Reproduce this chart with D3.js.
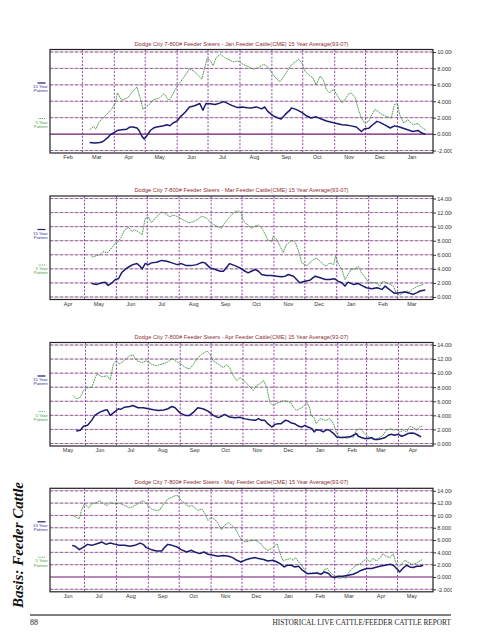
<!DOCTYPE html>
<html><head><meta charset="utf-8">
<script src="https://cdn.jsdelivr.net/npm/d3@7"></script>
<style>body{margin:0;background:#fff}svg{display:block}</style>
</head><body>
<svg id="c" width="495" height="640"></svg>
<script>
// ---------- DATA ----------
const monthNames = ["Jan","Feb","Mar","Apr","May","Jun","Jul","Aug","Sep","Oct","Nov","Dec"];
const contracts = ["Jan","Mar","Apr","May"];
const firstMonth = [1, 3, 4, 5]; // first month shown on each panel (index in monthNames)
const yTicks = [
  [-2,0,2,4,6,8,10],
  [0,2,4,6,8,10,12,14],
  [0,2,4,6,8,10,12,14],
  [-2,0,2,4,6,8,10,12,14]
];
const seriesNames = ["15 Year Pattern","5 Year Pattern"];
// [day since first day of the first month, basis]
const jan15 = [[35,-1.03],[40,-1.1],[45,-1.03],[48,-0.9],[52,-0.5],[55,-0.1],[59,0.2],[62,0.44],[66,0.53],[71,0.6],[74,0.86],[77,0.86],[81,0.74],[83,0.44],[86,-0.3],[88,-0.6],[90,-0.3],[94,0.44],[97,0.74],[100,0.86],[103,0.93],[107,1.02],[110,1.14],[113,1.02],[116,1.35],[120,1.6],[123,2.1],[128,2.7],[132,3.3],[137,3.45],[142,3.72],[145,2.9],[148,3.72],[152,3.7],[157,3.6],[162,3.8],[165,3.95],[168,3.8],[173,3.5],[178,3.25],[183,3.31],[188,3.2],[192,3.19],[197,3.31],[202,3.07],[205,3.3],[208,2.77],[213,2.25],[218,1.96],[221,1.84],[225,2.4],[230,2.98],[231,3.19],[236,2.98],[241,2.65],[246,2.2],[250,1.96],[255,2.1],[260,1.84],[265,1.6],[270,1.43],[275,1.3],[280,1.14],[284,1.1],[289,1.0],[294,0.86],[299,0.32],[302,0.65],[306,0.7],[310,1.14],[314,1.55],[317,1.43],[322,1.1],[327,0.74],[331,1.0],[336,0.86],[341,0.65],[346,0.44],[349,0.32],[354,0.44],[358,0.1],[361,0.0]];
const jan5 = [[35,0.53],[39,0.93],[41,0.6],[44,1.43],[48,1.96],[53,2.6],[56,2.98],[60,3.8],[62,5.03],[66,4.12],[72,4.42],[77,5.23],[81,5.75],[84,4.42],[87,3.0],[90,3.39],[94,3.72],[97,4.2],[100,4.29],[103,4.42],[107,4.9],[108,4.8],[111,4.2],[113,4.2],[118,5.4],[123,6.3],[128,7.2],[132,7.95],[136,7.7],[139,7.3],[144,6.7],[149,9.2],[152,9.0],[155,8.35],[158,9.33],[162,9.73],[166,9.33],[171,9.03],[174,8.8],[179,8.9],[184,8.5],[189,8.22],[194,7.9],[199,8.1],[204,8.5],[207,8.3],[210,7.9],[213,7.28],[217,6.66],[220,6.4],[225,7.28],[230,8.3],[233,8.63],[238,9.12],[241,8.7],[244,7.68],[249,7.07],[252,6.87],[255,6.0],[259,7.07],[262,6.57],[265,5.44],[268,5.03],[272,5.44],[276,4.61],[280,3.8],[283,4.2],[286,4.82],[289,5.03],[293,4.42],[296,2.98],[299,1.96],[302,1.35],[306,1.55],[309,2.37],[312,2.98],[315,2.77],[319,2.37],[323,2.16],[328,1.96],[331,3.6],[334,3.7],[336,2.4],[340,1.35],[344,1.75],[349,1.14],[354,1.3],[357,0.86],[362,0.44]];
const mar15 = [[37,1.93],[42,1.79],[47,2.03],[50,2.11],[53,1.65],[56,1.93],[60,2.49],[63,2.59],[66,3.44],[70,4.0],[74,4.37],[77,4.6],[81,4.75],[84,4.37],[86,4.0],[89,4.75],[92,4.6],[95,4.85],[100,4.93],[105,5.2],[110,5.07],[115,4.85],[120,4.6],[124,4.75],[129,4.46],[134,4.46],[139,4.6],[144,4.93],[147,4.85],[152,4.14],[157,3.9],[162,3.66],[165,3.66],[171,4.75],[176,4.46],[181,4.14],[186,3.66],[189,3.44],[192,3.66],[196,3.9],[199,3.66],[202,3.2],[207,3.06],[212,3.06],[217,2.96],[221,2.87],[225,2.96],[228,3.2],[233,2.96],[236,2.49],[239,2.03],[244,2.25],[249,2.39],[254,2.96],[259,2.73],[264,2.49],[268,2.49],[273,2.59],[276,2.25],[280,2.03],[283,1.55],[286,2.11],[291,1.79],[296,1.93],[299,1.65],[304,1.32],[309,1.18],[314,1.32],[319,1.08],[322,1.55],[325,1.18],[328,0.85],[331,0.52],[336,0.62],[341,0.7],[346,0.52],[349,0.38],[353,0.62],[356,0.85],[361,0.99]];
const mar5 = [[37,5.69],[42,5.87],[45,6.0],[48,6.48],[52,6.25],[55,6.72],[60,7.66],[63,7.89],[66,8.6],[69,9.54],[73,9.9],[76,9.3],[79,9.54],[82,9.3],[86,8.83],[89,11.18],[92,11.4],[95,10.56],[100,11.4],[105,12.1],[108,11.9],[113,11.4],[116,11.65],[121,11.4],[126,10.94],[131,10.56],[136,10.7],[140,11.04],[144,11.5],[149,11.18],[153,10.48],[158,10.1],[163,9.77],[166,10.48],[171,11.4],[176,12.1],[179,12.25],[182,12.0],[184,10.94],[187,10.4],[189,10.24],[192,9.77],[196,10.1],[199,10.24],[202,9.77],[205,9.07],[208,8.13],[212,7.89],[213,8.6],[217,8.13],[220,7.18],[223,6.34],[226,7.42],[230,7.89],[233,8.03],[235,7.66],[238,6.48],[241,4.85],[246,4.46],[249,4.85],[252,5.31],[255,5.55],[259,5.07],[262,4.6],[265,4.37],[268,4.85],[272,4.6],[274,5.87],[276,4.85],[280,3.9],[283,2.49],[286,3.2],[289,3.9],[293,4.0],[296,4.37],[299,3.44],[302,2.96],[306,2.03],[309,2.11],[314,1.93],[317,1.55],[320,2.25],[323,2.03],[327,1.79],[330,1.55],[333,0.52],[336,0.24],[340,0.62],[343,0.85],[346,0.7],[349,1.18],[354,1.55],[359,1.79]];
const apr15 = [[22,1.78],[26,1.88],[29,2.44],[33,2.58],[37,3.29],[40,3.99],[45,4.46],[49,4.7],[52,4.8],[55,3.99],[59,4.46],[63,4.94],[65,4.85],[69,5.16],[74,5.26],[77,5.4],[82,5.08],[87,5.08],[92,4.94],[97,4.8],[102,4.7],[107,4.75],[111,4.94],[115,5.26],[118,5.08],[123,4.32],[128,3.99],[132,3.99],[136,4.46],[140,5.08],[145,4.94],[150,4.6],[155,3.99],[160,3.67],[163,3.85],[166,4.13],[171,3.75],[176,3.67],[181,3.72],[186,3.5],[191,3.38],[196,3.29],[199,3.53],[202,3.29],[205,3.29],[208,2.82],[212,2.34],[215,2.72],[218,2.82],[221,2.82],[225,3.29],[228,3.19],[231,2.91],[234,2.82],[238,2.44],[241,2.34],[244,2.58],[247,2.34],[251,2.12],[253,1.64],[255,1.97],[259,1.88],[262,1.64],[265,1.97],[268,1.88],[272,1.41],[275,0.93],[278,0.85],[281,0.85],[285,0.93],[288,0.93],[291,1.17],[294,1.41],[296,1.03],[299,0.85],[302,0.7],[306,0.7],[309,0.85],[312,0.56],[315,0.56],[319,0.7],[322,0.85],[325,1.17],[328,1.31],[331,1.17],[335,1.31],[338,1.03],[341,1.17],[344,1.41],[348,1.5],[351,1.41],[354,1.17],[357,0.93]];
const apr5 = [[19,6.81],[22,6.35],[26,6.57],[29,7.52],[32,7.9],[37,7.98],[40,9.17],[42,9.87],[47,9.49],[52,9.63],[55,9.03],[58,11.28],[61,11.75],[64,11.28],[69,11.85],[74,12.45],[77,12.6],[81,11.75],[86,11.5],[90,11.75],[95,11.28],[100,11.04],[105,11.28],[110,11.5],[115,12.13],[118,11.75],[123,11.37],[128,10.8],[132,10.57],[136,11.28],[139,11.99],[144,12.69],[149,13.16],[152,12.69],[155,11.75],[160,11.28],[165,10.8],[168,11.18],[171,10.8],[174,9.77],[178,8.93],[181,9.4],[186,8.8],[191,7.98],[194,7.52],[197,8.22],[200,8.46],[204,8.93],[207,7.98],[210,5.87],[213,5.4],[217,5.73],[220,5.87],[223,6.1],[226,6.0],[230,5.87],[233,5.16],[236,4.7],[239,4.94],[242,5.16],[246,5.87],[249,4.94],[250,3.99],[253,3.67],[255,2.82],[259,3.53],[262,3.38],[265,3.29],[268,3.53],[272,2.82],[275,1.41],[278,0.85],[281,0.93],[285,0.7],[288,1.03],[291,0.85],[294,1.88],[298,2.12],[301,1.64],[304,1.17],[307,0.85],[310,0.56],[314,0.7],[317,0.85],[320,1.17],[323,1.88],[327,2.12],[330,1.88],[333,2.0],[336,1.64],[340,1.88],[343,1.64],[346,2.44],[349,2.26],[353,1.88],[356,2.44],[358,2.44]];
const may15 = [[18,5.14],[21,4.98],[25,4.44],[29,4.86],[33,5.3],[37,5.14],[42,5.41],[47,5.67],[51,5.3],[55,5.51],[60,5.3],[64,5.14],[69,5.14],[74,4.98],[79,5.14],[84,5.51],[87,5.3],[90,4.77],[95,4.44],[100,4.22],[105,4.22],[108,4.86],[111,5.3],[115,5.14],[120,4.86],[124,4.44],[129,4.06],[134,4.33],[137,4.06],[142,3.8],[146,4.06],[150,3.68],[155,3.52],[160,3.36],[165,3.5],[170,3.36],[174,3.15],[178,2.71],[182,2.44],[186,2.75],[191,2.99],[196,3.15],[199,2.99],[204,2.83],[208,2.6],[213,2.71],[217,2.44],[220,2.18],[224,1.63],[227,1.91],[231,1.91],[234,1.63],[238,1.74],[241,1.21],[246,0.57],[251,0.57],[255,0.66],[260,0.45],[263,0.82],[267,0.57],[270,0.02],[273,-0.08],[276,0.13],[281,0.13],[286,0.29],[291,0.45],[296,0.82],[299,1.1],[304,1.37],[309,1.37],[314,1.63],[317,1.74],[322,1.91],[327,2.07],[330,1.91],[334,1.21],[336,0.82],[340,1.53],[343,1.91],[346,1.63],[349,1.53],[353,1.74],[356,1.74],[359,1.91]];
const may5 = [[19,9.98],[22,9.71],[25,9.45],[27,10.79],[30,11.87],[34,11.23],[37,11.87],[42,12.13],[45,12.41],[48,11.97],[52,11.6],[55,12.13],[60,11.87],[64,11.97],[69,11.6],[74,11.23],[79,11.6],[84,12.13],[87,12.41],[90,11.87],[95,11.07],[100,10.79],[103,10.9],[107,11.87],[111,12.68],[115,12.94],[118,13.21],[121,13.2],[124,12.41],[128,11.87],[131,11.44],[134,11.6],[137,11.32],[140,10.79],[144,11.07],[147,10.26],[150,9.18],[153,9.71],[157,9.29],[160,8.64],[163,7.67],[166,8.37],[170,8.9],[173,8.37],[176,8.0],[179,7.03],[183,5.95],[186,5.7],[191,5.9],[196,5.95],[199,5.67],[202,5.3],[205,4.6],[208,4.33],[212,4.6],[215,5.14],[217,5.41],[220,3.8],[223,2.6],[226,2.83],[230,2.99],[233,2.71],[235,3.15],[238,2.44],[241,1.91],[244,1.1],[247,0.45],[251,0.66],[254,0.57],[257,0.82],[260,0.29],[263,1.21],[266,1.37],[268,0.82],[272,0.29],[275,-0.08],[278,-0.24],[281,0.02],[284,-0.24],[287,0.82],[291,1.53],[294,1.91],[298,2.18],[301,2.6],[304,2.99],[307,2.44],[310,2.99],[314,2.6],[317,3.15],[320,3.8],[323,3.36],[327,3.15],[330,3.8],[332,2.44],[335,1.63],[338,2.07],[341,2.71],[344,2.44],[348,2.07],[351,2.18],[354,2.44],[358,2.83]];
const pattern15 = [jan15, mar15, apr15, may15];
const pattern5 = [jan5, mar5, apr5, may5];

// ---------- LAYOUT ----------
const W = 495, H = 640;
const L = 50, R = 433, plotH = 103.5, pad = 2.5;
const tops = [49.5, 196, 342.5, 488.3];
const C15 = "#1b1b72", C5 = "#3f913f";
const sans = "'Liberation Sans', Arial, sans-serif";
const serif = "'Liberation Serif', 'Times New Roman', serif";

const svg = d3.select("#c");
svg.append("rect").attr("width", W).attr("height", H).attr("fill", "#fff");
// clip for the right-hand tick labels (local coordinates of the axis group)
svg.append("defs").append("clipPath").attr("id", "labclip")
  .append("rect").attr("x", -5).attr("y", -10).attr("width", 457 - R).attr("height", H + 20);

contracts.forEach((c, p) => {
  const top = tops[p], bottom = top + plotH;
  const start = new Date(2006, firstMonth[p], 1);
  const end = d3.timeYear.offset(start, 1);
  const x = d3.scaleTime()
    .domain([d3.timeHour.offset(start, -84), d3.timeHour.offset(end, 84)])
    .range([L, R]);
  const ticks = yTicks[p];
  const y = d3.scaleLinear().domain(d3.extent(ticks)).range([bottom - pad, top + pad]);
  const g = svg.append("g");

  // horizontal gridlines
  ticks.forEach(t => {
    if (t === 0 && ticks[0] < 0) return;
    g.append("line").attr("x1", L).attr("x2", R).attr("y1", y(t)).attr("y2", y(t))
      .attr("stroke", "#c9c3c9").attr("stroke-width", 1);
    g.append("line").attr("x1", L).attr("x2", R).attr("y1", y(t)).attr("y2", y(t))
      .attr("stroke", "#a860a8").attr("stroke-width", 1).attr("stroke-dasharray", "3,2");
  });
  // vertical month gridlines
  d3.timeMonth.range(d3.timeMonth.offset(start, 1), end).forEach(m => {
    g.append("line").attr("x1", x(m)).attr("x2", x(m)).attr("y1", top).attr("y2", bottom)
      .attr("stroke", "#80309a").attr("stroke-width", 0.9).attr("stroke-dasharray", "2,1.6");
  });
  // zero line
  if (ticks[0] < 0) {
    g.append("line").attr("x1", L).attr("x2", R).attr("y1", y(0)).attr("y2", y(0))
      .attr("stroke", "#6e1670").attr("stroke-width", 1.2);
  }
  // frame
  g.append("rect").attr("x", L).attr("y", top).attr("width", R - L).attr("height", plotH)
    .attr("fill", "none").attr("stroke", "#222").attr("stroke-width", 1.2);

  // right axis
  const ax = g.append("g").attr("transform", `translate(${R},0)`)
    .call(d3.axisRight(y).tickValues(ticks).tickSize(3).tickPadding(1.2)
      .tickFormat(v => v.toFixed(3)));
  ax.select(".domain").remove();
  ax.selectAll(".tick line").attr("stroke", "#333");
  ax.selectAll("text").attr("font-family", sans).attr("font-size", 5.6)
    .attr("fill", "#333").attr("clip-path", "url(#labclip)");

  // month labels
  d3.range(12).forEach(i => {
    const d = new Date(2006, firstMonth[p] + i, 15);
    g.append("text").attr("x", x(d)).attr("y", bottom + 6.2)
      .attr("text-anchor", "middle").attr("font-family", sans).attr("font-size", 5.5)
      .attr("fill", "#333").text(monthNames[d.getMonth()]);
  });

  // title
  g.append("text").attr("x", (L + R) / 2).attr("y", top - 4)
    .attr("text-anchor", "middle").attr("font-family", sans).attr("font-size", 5.4)
    .attr("fill", "#8e2f35").attr("textLength", 214).attr("lengthAdjust", "spacingAndGlyphs")
    .text(`Dodge City 7-800# Feeder Steers - ${c} Feeder Cattle(CME) 15 Year Average(93-07)`);

  // series
  const line = d3.line()
    .x(d => x(d3.timeDay.offset(start, d[0])))
    .y(d => y(d[1]));
  g.append("path").datum(pattern5[p]).attr("d", line).attr("fill", "none")
    .attr("stroke", C5).attr("stroke-width", 0.9).attr("stroke-dasharray", "1.8,0.7");
  g.append("path").datum(pattern15[p]).attr("d", line).attr("fill", "none")
    .attr("stroke", C15).attr("stroke-width", 1.5).attr("stroke-linejoin", "round");

  // legend
  const lx = 47.7;
  g.append("line").attr("x1", 37.5).attr("x2", 45.5).attr("y1", top + 33.5).attr("y2", top + 33.5)
    .attr("stroke", C15).attr("stroke-width", 1.2);
  const w15 = seriesNames[0].split(" ");
  g.append("text").attr("x", lx).attr("y", top + 38.6).attr("text-anchor", "end")
    .attr("font-family", sans).attr("font-size", 4.3).attr("fill", "#2b2b8c").text(w15[0] + " " + w15[1]);
  g.append("text").attr("x", lx).attr("y", top + 42.8).attr("text-anchor", "end")
    .attr("font-family", sans).attr("font-size", 4.3).attr("fill", "#2b2b8c").text(w15[2]);
  g.append("line").attr("x1", 38.5).attr("x2", 45.5).attr("y1", top + 69).attr("y2", top + 69)
    .attr("stroke", C5).attr("stroke-width", 0.8).attr("stroke-dasharray", "1,0.8");
  const w5 = seriesNames[1].split(" ");
  g.append("text").attr("x", lx).attr("y", top + 74).attr("text-anchor", "end")
    .attr("font-family", sans).attr("font-size", 4.3).attr("fill", "#3d9a3d").text(w5[0] + " " + w5[1]);
  g.append("text").attr("x", lx).attr("y", top + 78.2).attr("text-anchor", "end")
    .attr("font-family", sans).attr("font-size", 4.3).attr("fill", "#3d9a3d").text(w5[2]);
});

// side heading
svg.append("text").attr("transform", "translate(22.5,545) rotate(-90)")
  .attr("text-anchor", "middle").attr("font-family", serif).attr("font-size", 14)
  .attr("font-weight", "bold").attr("font-style", "italic").attr("fill", "#111")
  .attr("textLength", 126).attr("lengthAdjust", "spacingAndGlyphs")
  .text("Basis:  Feeder Cattle");

// footer
svg.append("line").attr("x1", 30).attr("x2", 451).attr("y1", 615).attr("y2", 615)
  .attr("stroke", "#000").attr("stroke-width", 1);
svg.append("text").attr("x", 30).attr("y", 624.5).attr("font-family", serif)
  .attr("font-size", 8).attr("fill", "#222").text("88");
svg.append("text").attr("x", 451).attr("y", 624.5).attr("text-anchor", "end")
  .attr("font-family", serif).attr("font-size", 8.3).attr("fill", "#222")
  .attr("textLength", 178.5).attr("lengthAdjust", "spacingAndGlyphs")
  .text("HISTORICAL LIVE CATTLE/FEEDER CATTLE REPORT");
</script>
</body></html>
